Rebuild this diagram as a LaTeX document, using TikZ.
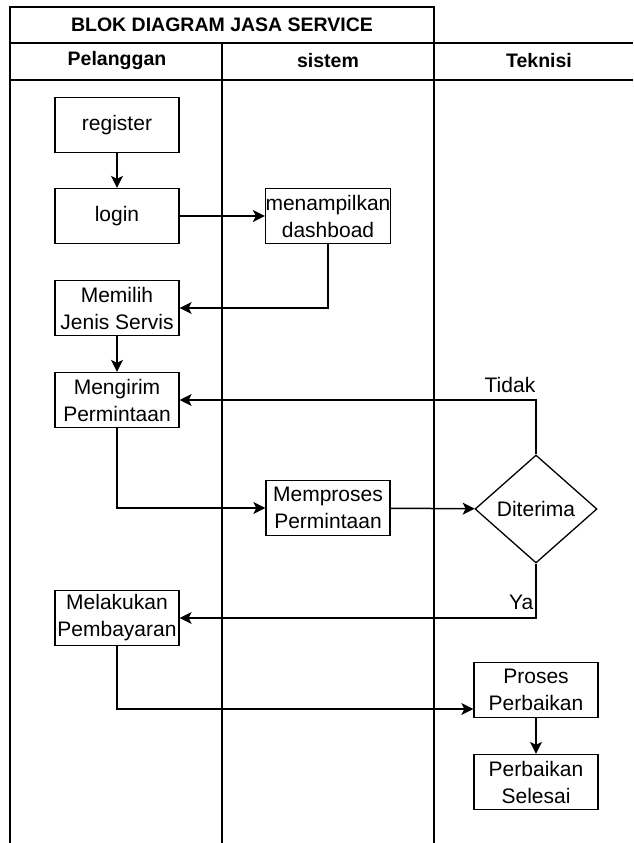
\documentclass[tikz,border=0pt]{standalone}
\usepackage{fontspec}
\setmainfont{Liberation Sans}
\usetikzlibrary{arrows.meta,shapes.geometric}
\tikzset{
	kotak/.style={draw, line width=1.3pt, minimum width=124pt, minimum height=55pt,
			inner sep=0pt, align=center, font=\fontsize{21}{27}\selectfont},
	keputusan/.style={draw, diamond, line width=1.3pt, minimum width=122pt,
			minimum height=108pt, inner sep=0pt, font=\fontsize{21}{24}\selectfont},
	judul/.style={font=\fontsize{19.5}{23}\selectfont\bfseries},
	ket/.style={font=\fontsize{21}{24}\selectfont, inner sep=2pt, anchor=south east},
	garis/.style={line width=1.3pt},
	panah/.style={-{Stealth[length=12pt,width=12pt,inset=3pt]}, line width=1.5pt}
}

\begin{document}
\begin{tikzpicture}[x=1pt, y=-1pt]
        \useasboundingbox (0,0) rectangle (633,843);
        % tabel swimlane
        \draw [garis] (10,7) rectangle (434,43);
        \draw [garis] (10,43) -- (633,43);
        \draw [garis] (10,80) -- (633,80);
        \draw [garis] (10,7) -- (10,843);
        \draw [garis] (222,43) -- (222,843);
        \draw [garis] (434,7) -- (434,843);
        \node [judul] (judul) at (222,25) {BLOK DIAGRAM JASA SERVICE};
        \node [judul] (pelanggan) at (117,61) {Pelanggan};
        \node [judul] (sistem) at (328,61) {sistem};
        \node [judul] (teknisi) at (539,61) {Teknisi};
        % proses
        \node [kotak] (register) at (117,125) {register};
        \node [kotak] (login) at (117,216) {login};
        \node [kotak] (dash) at (328,216) {menampilkan\\dashboad};
        \node [kotak] (pilih) at (117,308) {Memilih\\Jenis Servis};
        \node [kotak] (kirim) at (117,400) {Mengirim\\Permintaan};
        \node [kotak] (proses) at (328,508) {Memproses\\Permintaan};
        \node [keputusan] (cek) at (536,509) {Diterima};
        \node [kotak] (bayar) at (117,618) {Melakukan\\Pembayaran};
        \node [kotak] (perbaikan) at (536,690) {Proses\\Perbaikan};
        \node [kotak] (selesai) at (536,782) {Perbaikan\\Selesai};
        % alur
        \draw [panah] (register) -- (login);
        \draw [panah] (login) -- (dash);
        \draw [panah] (dash.south) |- (pilih.east);
        \draw [panah] (pilih) -- (kirim);
        \draw [panah] (cek.north) |- (kirim.east) node[pos=0.5, ket, xshift=2pt, yshift=5pt]{Tidak};
        \draw [panah] (kirim.south) |- (proses.west);
        \draw [panah] (proses) -- (cek);
        \draw [panah] (cek.south) |- (bayar.east) node[pos=0.5, ket, yshift=6pt]{Ya};
        \draw [panah] (bayar.south) |- ([yshift=-19pt]perbaikan.west);
        \draw [panah] (perbaikan) -- (selesai);
    \end{tikzpicture}
\end{document}
